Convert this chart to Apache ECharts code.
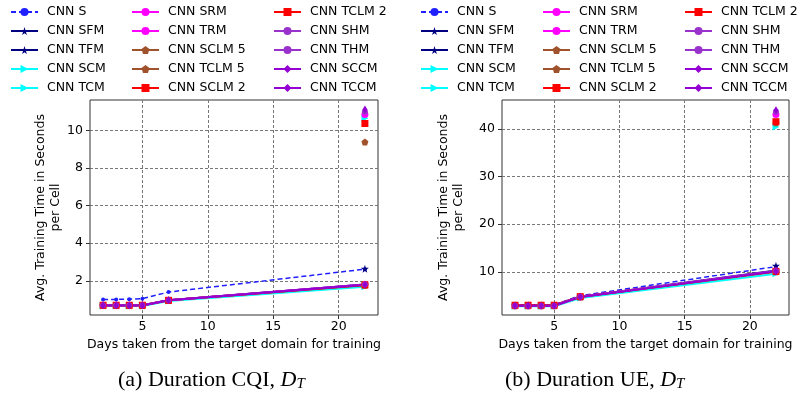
<!DOCTYPE html>
<html>
<head>
<meta charset="utf-8">
<script src="https://cdn.jsdelivr.net/npm/echarts@6/dist/echarts.min.js"></script>
<style>
  html, body { margin: 0; padding: 0; background: #fff; }
  #chart { width: 801px; height: 401px; }
</style>
</head>
<body>
<div id="chart"></div>
<script>
// x values (days from the target domain)
const days = [2, 3, 4, 5, 7, 22];
const lastDay = 22;

const names = [
  'CNN S', 'CNN SFM', 'CNN TFM', 'CNN SCM', 'CNN TCM',
  'CNN SRM', 'CNN TRM', 'CNN SCLM 5', 'CNN TCLM 5', 'CNN SCLM 2',
  'CNN TCLM 2', 'CNN SHM', 'CNN THM', 'CNN SCCM', 'CNN TCCM'
];

// (a) Duration CQI - lines over all days
const cqiS     = [1.01, 1.01, 1.02, 1.05, 1.40, 2.62];
const cqiTFM   = [0.69, 0.69, 0.69, 0.69, 0.97, 1.80];
const cqiTCM   = [0.66, 0.66, 0.66, 0.66, 0.92, 1.68];
const cqiTRM   = [0.70, 0.70, 0.70, 0.70, 0.97, 1.80];
const cqiTCLM5 = [0.69, 0.69, 0.69, 0.69, 0.96, 1.76];
const cqiTCLM2 = [0.70, 0.70, 0.70, 0.70, 0.96, 1.78];
const cqiTHM   = [0.70, 0.70, 0.70, 0.70, 0.97, 1.80];
const cqiTCCM  = [0.69, 0.69, 0.69, 0.69, 0.96, 1.79];
// (a) single points at day 22: SFM, SCM, SRM, SCLM 5, SCLM 2, SHM, SCCM
const cqiSource = [2.64, 10.65, 10.85, 9.38, 10.37, 11.0, 11.12];

// (b) Duration UE
const ueS     = [3.0, 3.0, 3.0, 3.1, 5.0, 11.1];
const ueTFM   = [3.0, 3.0, 3.0, 3.0, 4.8, 10.3];
const ueTCM   = [2.8, 2.8, 2.8, 2.8, 4.5, 9.6];
const ueTRM   = [2.9, 2.9, 2.9, 2.9, 4.8, 10.2];
const ueTCLM5 = [2.9, 2.9, 2.9, 2.9, 4.7, 10.0];
const ueTCLM2 = [3.0, 3.0, 3.0, 3.0, 4.8, 10.1];
const ueTHM   = [2.9, 2.9, 2.9, 2.9, 4.8, 10.2];
const ueTCCM  = [2.9, 2.9, 2.9, 2.9, 4.7, 10.1];
const ueSource = [11.3, 40.4, 43.0, 41.3, 41.5, 43.6, 43.9];

const cqiTicks = [2, 4, 6, 8, 10];
const ueTicks = [10, 20, 30, 40];
const xTicks = [5, 10, 15, 20];

const STAR = 'path://M50,0 L61,35 L98,35 L68,57 L79,91 L50,70 L21,91 L32,57 L2,35 L39,35 Z';
const PENT = 'path://M50,0 L100,38 L81,100 L19,100 L0,38 Z';

const styles = {
  'CNN S':      { color: '#2020ff', symbol: 'circle', size: 4, dash: true },
  'CNN SFM':    { color: '#000080', symbol: STAR, size: 8 },
  'CNN TFM':    { color: '#000080', symbol: STAR, size: 8 },
  'CNN SCM':    { color: '#00ffff', symbol: 'triangle', size: 7, rot: -90 },
  'CNN TCM':    { color: '#00ffff', symbol: 'triangle', size: 7, rot: -90 },
  'CNN SRM':    { color: '#ff00ff', symbol: 'circle', size: 7 },
  'CNN TRM':    { color: '#ff00ff', symbol: 'circle', size: 7 },
  'CNN SCLM 5': { color: '#a0522d', symbol: PENT, size: 7 },
  'CNN TCLM 5': { color: '#a0522d', symbol: PENT, size: 7 },
  'CNN SCLM 2': { color: '#ff0000', symbol: 'rect', size: 7 },
  'CNN TCLM 2': { color: '#ff0000', symbol: 'rect', size: 7 },
  'CNN SHM':    { color: '#9932cc', symbol: 'circle', size: 6 },
  'CNN THM':    { color: '#9932cc', symbol: 'circle', size: 6 },
  'CNN SCCM':   { color: '#9400d3', symbol: 'diamond', size: [5, 8] },
  'CNN TCCM':   { color: '#9400d3', symbol: 'diamond', size: [5, 8] }
};

const cqiLines = {
  'CNN S': cqiS, 'CNN TFM': cqiTFM, 'CNN TCM': cqiTCM, 'CNN TRM': cqiTRM,
  'CNN TCLM 5': cqiTCLM5, 'CNN TCLM 2': cqiTCLM2, 'CNN THM': cqiTHM, 'CNN TCCM': cqiTCCM
};
const ueLines = {
  'CNN S': ueS, 'CNN TFM': ueTFM, 'CNN TCM': ueTCM, 'CNN TRM': ueTRM,
  'CNN TCLM 5': ueTCLM5, 'CNN TCLM 2': ueTCLM2, 'CNN THM': ueTHM, 'CNN TCCM': ueTCCM
};
const sourceOrder = ['CNN SFM', 'CNN SCM', 'CNN SRM', 'CNN SCLM 5', 'CNN SCLM 2', 'CNN SHM', 'CNN SCCM'];

const FONT = 'DejaVu Sans';

function buildSeries(lines, source, idx) {
  return names.map(function (n) {
    const st = styles[n];
    let data;
    if (lines[n]) {
      data = days.map(function (d, i) { return [d, lines[n][i]]; });
    } else {
      data = [[lastDay, source[sourceOrder.indexOf(n)]]];
    }
    return {
      name: n,
      type: 'line',
      xAxisIndex: idx,
      yAxisIndex: idx,
      data: data,
      symbol: st.symbol,
      symbolSize: st.size,
      symbolRotate: st.rot || 0,
      showAllSymbol: true,
      color: st.color,
      lineStyle: { color: st.color, width: st.dash ? 1.5 : 2, type: st.dash ? [5, 3] : 'solid' },
      itemStyle: { color: st.color },
      emphasis: { disabled: true }
    };
  });
}

function xAxis(idx) {
  return {
    type: 'value', gridIndex: idx, min: 1, max: 23,
    name: 'Days taken from the target domain for training',
    nameLocation: 'middle', nameGap: 19,
    nameTextStyle: { fontFamily: FONT, fontSize: 12.5, color: '#000' },
    axisLine: { show: false },
    axisTick: { show: true, customValues: xTicks, inside: false, length: 4, lineStyle: { color: '#333' } },
    axisLabel: { customValues: xTicks, fontFamily: FONT, fontSize: 12.5, color: '#000', margin: 5 },
    splitLine: { show: true, lineStyle: { color: '#777', type: [3, 2], width: 1 } }
  };
}

function yAxis(idx, min, max, ticks, gap) {
  return {
    type: 'value', gridIndex: idx, min: min, max: max,
    name: 'Avg. Training Time in Seconds\nper Cell',
    nameLocation: 'middle', nameGap: gap,
    nameTextStyle: { fontFamily: FONT, fontSize: 12.5, color: '#000', lineHeight: 15, align: 'center' },
    axisLine: { show: false },
    axisTick: { show: true, customValues: ticks, length: 4, lineStyle: { color: '#333' } },
    axisLabel: { customValues: ticks, fontFamily: FONT, fontSize: 12.5, color: '#000', margin: 7 },
    splitLine: { show: true, lineStyle: { color: '#777', type: [3, 2], width: 1 } }
  };
}

function legend(left, list) {
  return {
    orient: 'vertical', left: left, top: 5, padding: 0,
    data: list, itemWidth: 27, itemHeight: 10, itemGap: 5,
    selectedMode: false,
    textStyle: { fontFamily: FONT, fontSize: 12.5, color: '#000', lineHeight: 14, padding: [0, 0, 0, 4] }
  };
}

const col1 = names.slice(0, 5), col2 = names.slice(5, 10), col3 = names.slice(10, 15);

function caption(left, label) {
  return {
    left: left, top: 369, padding: 0,
    text: '{n|' + label + '}{i|D}{s|T}',
    textStyle: {
      fontWeight: 'normal',
      rich: {
        n: { fontFamily: 'Liberation Serif', fontWeight: 'normal', fontSize: 22, color: '#000' },
        i: { fontFamily: 'Liberation Serif', fontWeight: 'normal', fontStyle: 'italic', fontSize: 22, color: '#000' },
        s: { fontFamily: 'Liberation Serif', fontWeight: 'normal', fontStyle: 'italic', fontSize: 15, color: '#000', padding: [8, 0, 0, 0] }
      }
    }
  };
}

const chart = echarts.init(document.getElementById('chart'));
chart.setOption({
  animation: false,
  backgroundColor: '#fff',
  title: [caption(118, '(a) Duration CQI, '), caption(505, '(b) Duration UE, ')],
  legend: [
    legend(10, col1), legend(131, col2), legend(273, col3),
    legend(420, col1), legend(542, col2), legend(684, col3)
  ],
  grid: [
    { left: 90, top: 100, width: 288, height: 215, show: true, borderColor: '#333', borderWidth: 1, backgroundColor: 'transparent' },
    { left: 502, top: 100, width: 287, height: 215, show: true, borderColor: '#333', borderWidth: 1, backgroundColor: 'transparent' }
  ],
  xAxis: [xAxis(0), xAxis(1)],
  yAxis: [yAxis(0, 0.18, 11.62, cqiTicks, 24), yAxis(1, 0.95, 46.05, ueTicks, 36)],
  series: buildSeries(cqiLines, cqiSource, 0).concat(buildSeries(ueLines, ueSource, 1))
});
</script>
</body>
</html>
